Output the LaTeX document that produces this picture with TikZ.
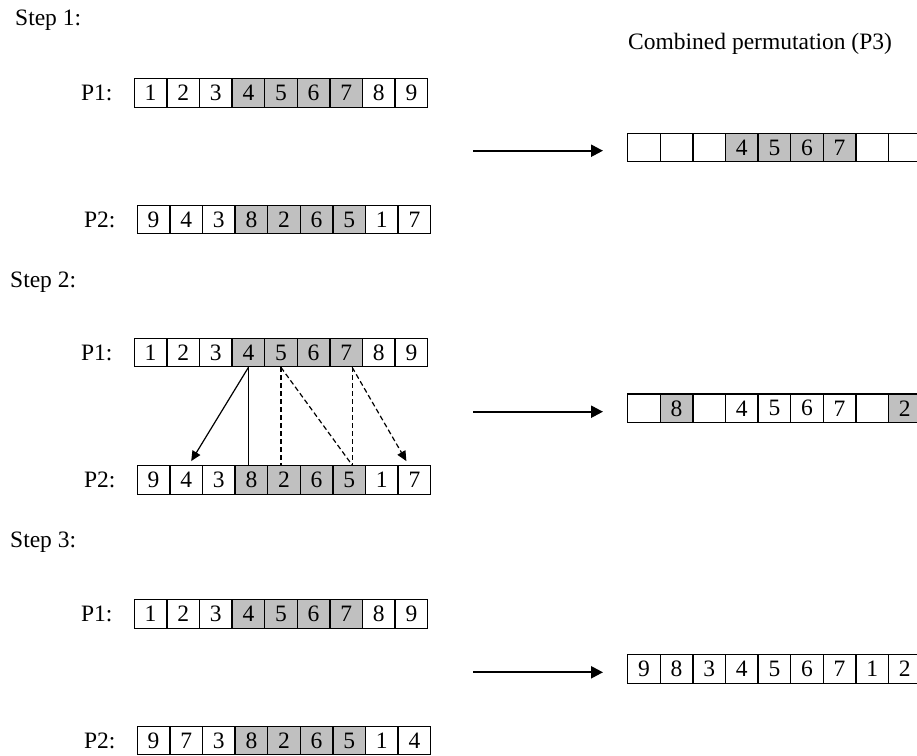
\documentclass[tikz,border=0pt]{standalone}
\usepackage{fontspec}
\setmainfont{Liberation Serif}
\usetikzlibrary{arrows.meta,positioning}
\definecolor{cellgray}{RGB}{192,192,192}

\begin{document}
\begin{tikzpicture}[x=1pt,y=-1pt,
  txt/.style={font=\fontsize{23.5}{27}\selectfont,inner sep=0pt},
  cell/.style={txt,draw,line width=1.3pt,minimum width=32.6pt,minimum height=28.5pt},
  wc/.style={cell,fill=white},
  gc/.style={cell,fill=cellgray},
  steptext/.style={txt,anchor=base west},
  bigarrow/.style={-{Triangle[length=12pt,width=12pt]},line width=2.2pt},
  link/.style={line width=1.2pt},
  linkarrow/.style={link,-{Triangle[length=10pt,width=9pt]}},
  dashlink/.style={link,dash pattern=on 5pt off 3pt}]
  \useasboundingbox (0,0) rectangle (917,755);

  \node[steptext] (step1) at (15,25.5) {Step 1:};
  \node[steptext] (title) at (628,49.5) {Combined permutation (P3)};
  \foreach \v/\s [count=\i] in {1/wc,2/wc,3/wc,4/gc,5/gc,6/gc,7/gc,8/wc,9/wc}
    \node[\s] (s1a\i) at (118+32.6*\i,93) {\v};
  \foreach \v/\s [count=\i] in {9/wc,4/wc,3/wc,8/gc,2/gc,6/gc,5/gc,1/wc,7/wc}
    \node[\s] (s1b\i) at (121+32.6*\i,219.5) {\v};
  \foreach \v/\s [count=\i] in {/wc,/wc,/wc,4/gc,5/gc,6/gc,7/gc,/wc,/wc}
    \node[\s] (s1c\i) at (611.4+32.6*\i,147.5) {\v};
  \node[txt,left=21pt of s1a1] (s1p1) {P1:};
  \node[txt,left=21pt of s1b1] (s1p2) {P2:};
  \coordinate (s1from) at (473,150.7);
  \coordinate (s1to) at (603,150.7);
  \draw[bigarrow] (s1from) -- (s1to);

  \node[steptext] (step2) at (10,287.2) {Step 2:};
  \foreach \v/\s [count=\i] in {1/wc,2/wc,3/wc,4/gc,5/gc,6/gc,7/gc,8/wc,9/wc}
    \node[\s] (s2a\i) at (118+32.6*\i,352.5) {\v};
  \foreach \v/\s [count=\i] in {9/wc,4/wc,3/wc,8/gc,2/gc,6/gc,5/gc,1/wc,7/wc}
    \node[\s] (s2b\i) at (121+32.6*\i,480) {\v};
  \foreach \v/\s [count=\i] in {/wc,8/gc,/wc,4/wc,5/wc,6/wc,7/wc,/wc,2/gc}
    \node[\s] (s2c\i) at (611.4+32.6*\i,408.3) {\v};
  \node[txt,left=21pt of s2a1] (s2p1) {P1:};
  \node[txt,left=21pt of s2b1] (s2p2) {P2:};
  \draw[linkarrow] (s2a4.south) -- ([xshift=5pt,yshift=4pt]s2b2.north);
  \draw[link] (s2a4.south) -- (s2a4.south |- s2b4.north);
  \draw[dashlink] (s2a5.south) -- (s2a5.south |- s2b5.north);
  \coordinate (s2k7) at ([xshift=6pt]s2a7.south);
  \draw[dashlink] (s2a5.south) -- (s2k7 |- s2b7.north);
  \draw[dashlink] (s2k7) -- (s2k7 |- s2b7.north);
  \draw[dashlink,-{Triangle[length=10pt,width=9pt]}] (s2k7) -- ([xshift=-8pt,yshift=4pt]s2b9.north);
  \coordinate (s2from) at (473,411.7);
  \coordinate (s2to) at (603,411.7);
  \draw[bigarrow] (s2from) -- (s2to);

  \node[steptext] (step3) at (10,547) {Step 3:};
  \foreach \v/\s [count=\i] in {1/wc,2/wc,3/wc,4/gc,5/gc,6/gc,7/gc,8/wc,9/wc}
    \node[\s] (s3a\i) at (118+32.6*\i,614) {\v};
  \foreach \v/\s [count=\i] in {9/wc,7/wc,3/wc,8/gc,2/gc,6/gc,5/gc,1/wc,4/wc}
    \node[\s] (s3b\i) at (121+32.6*\i,740.5) {\v};
  \foreach \v/\s [count=\i] in {9/wc,8/wc,3/wc,4/wc,5/wc,6/wc,7/wc,1/wc,2/wc}
    \node[\s] (s3c\i) at (611.4+32.6*\i,669) {\v};
  \node[txt,left=21pt of s3a1] (s3p1) {P1:};
  \node[txt,left=21pt of s3b1] (s3p2) {P2:};
  \coordinate (s3from) at (473,672.3);
  \coordinate (s3to) at (603,672.3);
  \draw[bigarrow] (s3from) -- (s3to);
\end{tikzpicture}
\end{document}
